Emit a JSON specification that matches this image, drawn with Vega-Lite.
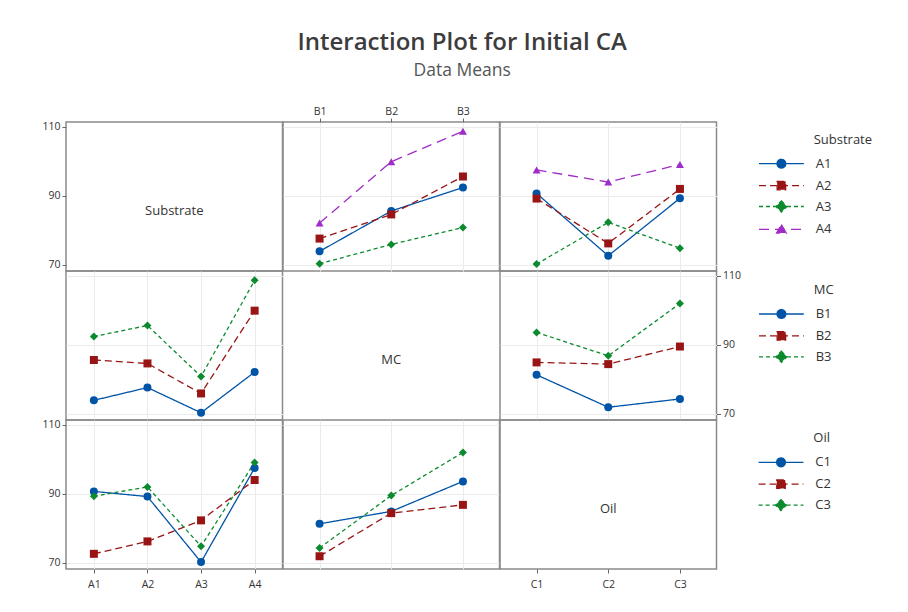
{
  "$schema": "https://vega.github.io/schema/vega-lite/v6.json",
  "background": "white",
  "padding": {"left": 41, "top": 30, "right": 5, "bottom": 5},
  "title": {
    "text": "Interaction Plot for Initial CA",
    "subtitle": "Data Means",
    "anchor": "middle",
    "dx": 5,
    "font": "Open Sans",
    "fontSize": 24,
    "fontWeight": 600,
    "color": "#3c3c3c",
    "subtitleFont": "Open Sans",
    "subtitleFontSize": 17.5,
    "subtitleColor": "#555555",
    "subtitlePadding": 7,
    "offset": 26
  },
  "datasets": {
    "ab": [
      {"Substrate": "A1", "MC": "B1", "CA": 73.9},
      {"Substrate": "A1", "MC": "B2", "CA": 85.6},
      {"Substrate": "A1", "MC": "B3", "CA": 92.4},
      {"Substrate": "A2", "MC": "B1", "CA": 77.6},
      {"Substrate": "A2", "MC": "B2", "CA": 84.6},
      {"Substrate": "A2", "MC": "B3", "CA": 95.6},
      {"Substrate": "A3", "MC": "B1", "CA": 70.3},
      {"Substrate": "A3", "MC": "B2", "CA": 75.9},
      {"Substrate": "A3", "MC": "B3", "CA": 80.8},
      {"Substrate": "A4", "MC": "B1", "CA": 82.1},
      {"Substrate": "A4", "MC": "B2", "CA": 99.9},
      {"Substrate": "A4", "MC": "B3", "CA": 108.7}
    ],
    "ac": [
      {"Substrate": "A1", "Oil": "C1", "CA": 90.7},
      {"Substrate": "A1", "Oil": "C2", "CA": 72.6},
      {"Substrate": "A1", "Oil": "C3", "CA": 89.3},
      {"Substrate": "A2", "Oil": "C1", "CA": 89.2},
      {"Substrate": "A2", "Oil": "C2", "CA": 76.2},
      {"Substrate": "A2", "Oil": "C3", "CA": 92.0},
      {"Substrate": "A3", "Oil": "C1", "CA": 70.2},
      {"Substrate": "A3", "Oil": "C2", "CA": 82.3},
      {"Substrate": "A3", "Oil": "C3", "CA": 74.8},
      {"Substrate": "A4", "Oil": "C1", "CA": 97.5},
      {"Substrate": "A4", "Oil": "C2", "CA": 94.0},
      {"Substrate": "A4", "Oil": "C3", "CA": 99.1}
    ],
    "bc": [
      {"MC": "B1", "Oil": "C1", "CA": 81.3},
      {"MC": "B1", "Oil": "C2", "CA": 71.9},
      {"MC": "B1", "Oil": "C3", "CA": 74.3},
      {"MC": "B2", "Oil": "C1", "CA": 84.9},
      {"MC": "B2", "Oil": "C2", "CA": 84.4},
      {"MC": "B2", "Oil": "C3", "CA": 89.5},
      {"MC": "B3", "Oil": "C1", "CA": 93.6},
      {"MC": "B3", "Oil": "C2", "CA": 86.8},
      {"MC": "B3", "Oil": "C3", "CA": 102.0}
    ]
  },
  "columns": 3,
  "spacing": 0,
  "bounds": "flush",
  "concat": [
    {
      "width": 216.5, "height": 149,
      "data": {"values": [{"label": "Substrate"}]},
      "mark": {"type": "text", "fontSize": 13, "color": "#333333", "dy": 15},
      "encoding": {
        "text": {"field": "label"},
        "y": {"datum": 90, "type": "quantitative", "title": null,
              "scale": {"domain": [68.2, 111.4], "nice": false, "zero": false},
              "axis": {"values": [70, 90, 110], "grid": false, "ticks": true, "labels": true}}
      }
    },
    {
      "width": 216.5, "height": 149,
      "data": {"name": "ab"},
      "encoding": {
        "x": {"field": "MC", "type": "nominal", "title": null,
              "scale": {"type": "point", "padding": 0.51, "domain": ["B1", "B2", "B3"]},
              "axis": {"orient": "top", "labels": true, "ticks": true, "grid": true, "labelAngle": 0}},
        "y": {"field": "CA", "type": "quantitative", "title": null,
              "scale": {"domain": [68.2, 111.4], "nice": false, "zero": false},
              "axis": {"values": [70, 90, 110], "labels": false, "ticks": false, "grid": true}},
        "color": {"field": "Substrate", "type": "nominal", "legend": null,
                  "scale": {"domain": ["A1", "A2", "A3", "A4"], "range": ["#0054A6", "#991515", "#0C8A2E", "#A02CC8"]}}
      },
      "layer": [
        {"mark": {"type": "line", "strokeWidth": 1.3},
         "encoding": {"strokeDash": {"field": "Substrate", "type": "nominal", "legend": null,
                      "scale": {"range": [[1, 0], [7, 4], [4, 3], [10, 6]]}}}},
        {"mark": {"type": "point", "filled": true, "size": 64, "opacity": 1},
         "encoding": {"shape": {"field": "Substrate", "type": "nominal", "legend": null,
                      "scale": {"range": ["circle", "square", "diamond", "triangle-up"]}}}}
      ]
    },
    {
      "width": 216.5, "height": 149,
      "data": {"name": "ac"},
      "encoding": {
        "x": {"field": "Oil", "type": "nominal", "title": null,
              "scale": {"type": "point", "padding": 0.51, "domain": ["C1", "C2", "C3"]},
              "axis": {"labels": false, "ticks": false, "grid": true}},
        "y": {"field": "CA", "type": "quantitative", "title": null,
              "scale": {"domain": [68.2, 111.4], "nice": false, "zero": false},
              "axis": {"values": [70, 90, 110], "labels": false, "ticks": false, "grid": true}},
        "color": {"field": "Substrate", "type": "nominal",
                  "scale": {"domain": ["A1", "A2", "A3", "A4"], "range": ["#0054A6", "#991515", "#0C8A2E", "#A02CC8"]},
                  "legend": {
                    "orient": "none", "legendX": 272.4, "legendY": 11.7,
                    "title": "Substrate", "titleFontSize": 13, "titleFontWeight": "normal", "titleColor": "#333333",
                    "labelFontSize": 13, "labelColor": "#333333",
                    "symbolSize": 256, "labelOffset": 25.3, "rowPadding": 4.9, "titlePadding": 8, "padding": 0,
                    "encoding": {
                      "title": {"dx": {"value": 41.3}},
                      "symbols": {
                        "shape": {"value": {"expr": "['M-2.8,0H2.8M0.56,0L0.485,0.28L0.28,0.485L0,0.56L-0.28,0.485L-0.485,0.28L-0.56,0L-0.485,-0.28L-0.28,-0.485L0,-0.56L0.28,-0.485L0.485,-0.28Z','M-2.8,0H2.8M-0.53,-0.53H0.53V0.53H-0.53Z','M-2.8,0H2.8M0,-0.69L0.69,0L0,0.69L-0.69,0Z','M-2.8,0H2.8M0,-0.6L0.6,0.45L-0.6,0.45Z'][datum.index]"}},
                        "strokeDash": {"value": {"expr": "[[1,0],[7,4],[4,3],[10,6]][datum.index]"}},
                        "strokeWidth": {"value": 1.3},
                        "size": {"value": 256},
                        "opacity": {"value": 1}
                      }
                    }
                  }}
      },
      "layer": [
        {"mark": {"type": "line", "strokeWidth": 1.3},
         "encoding": {"strokeDash": {"field": "Substrate", "type": "nominal", "legend": null,
                      "scale": {"range": [[1, 0], [7, 4], [4, 3], [10, 6]]}}}},
        {"mark": {"type": "point", "filled": true, "size": 64, "opacity": 1},
         "encoding": {"shape": {"field": "Substrate", "type": "nominal", "legend": null,
                      "scale": {"range": ["circle", "square", "diamond", "triangle-up"]}}}}
      ]
    },
    {
      "width": 216.5, "height": 149,
      "data": {"name": "ab"},
      "encoding": {
        "x": {"field": "Substrate", "type": "nominal", "title": null,
              "scale": {"type": "point", "padding": 0.52, "domain": ["A1", "A2", "A3", "A4"]},
              "axis": {"labels": false, "ticks": false, "grid": true}},
        "y": {"field": "CA", "type": "quantitative", "title": null,
              "scale": {"domain": [68.2, 111.4], "nice": false, "zero": false},
              "axis": {"values": [70, 90, 110], "labels": false, "ticks": false, "grid": true}},
        "color": {"field": "MC", "type": "nominal", "legend": null,
                  "scale": {"domain": ["B1", "B2", "B3"], "range": ["#0054A6", "#991515", "#0C8A2E"]}}
      },
      "layer": [
        {"mark": {"type": "line", "strokeWidth": 1.3},
         "encoding": {"strokeDash": {"field": "MC", "type": "nominal", "legend": null,
                      "scale": {"range": [[1, 0], [7, 4], [4, 3]]}}}},
        {"mark": {"type": "point", "filled": true, "size": 64, "opacity": 1},
         "encoding": {"shape": {"field": "MC", "type": "nominal", "legend": null,
                      "scale": {"range": ["circle", "square", "diamond"]}}}}
      ]
    },
    {
      "width": 216.5, "height": 149,
      "data": {"values": [{"label": "MC"}]},
      "mark": {"type": "text", "fontSize": 13, "color": "#333333", "dy": 14},
      "encoding": {"text": {"field": "label"}}
    },
    {
      "width": 216.5, "height": 149,
      "data": {"name": "bc"},
      "encoding": {
        "x": {"field": "Oil", "type": "nominal", "title": null,
              "scale": {"type": "point", "padding": 0.51, "domain": ["C1", "C2", "C3"]},
              "axis": {"labels": false, "ticks": false, "grid": true}},
        "y": {"field": "CA", "type": "quantitative", "title": null,
              "scale": {"domain": [68.2, 111.4], "nice": false, "zero": false},
              "axis": {"orient": "right", "values": [70, 90, 110], "labels": true, "ticks": true, "grid": true}},
        "color": {"field": "MC", "type": "nominal",
                  "scale": {"domain": ["B1", "B2", "B3"], "range": ["#0054A6", "#991515", "#0C8A2E"]},
                  "legend": {
                    "orient": "none", "legendX": 272.4, "legendY": 13,
                    "title": "MC", "titleFontSize": 13, "titleFontWeight": "normal", "titleColor": "#333333",
                    "labelFontSize": 13, "labelColor": "#333333",
                    "symbolSize": 256, "labelOffset": 25.3, "rowPadding": 4.9, "titlePadding": 8, "padding": 0,
                    "encoding": {
                      "title": {"dx": {"value": 41.3}},
                      "symbols": {
                        "shape": {"value": {"expr": "['M-2.8,0H2.8M0.56,0L0.485,0.28L0.28,0.485L0,0.56L-0.28,0.485L-0.485,0.28L-0.56,0L-0.485,-0.28L-0.28,-0.485L0,-0.56L0.28,-0.485L0.485,-0.28Z','M-2.8,0H2.8M-0.53,-0.53H0.53V0.53H-0.53Z','M-2.8,0H2.8M0,-0.69L0.69,0L0,0.69L-0.69,0Z'][datum.index]"}},
                        "strokeDash": {"value": {"expr": "[[1,0],[7,4],[4,3]][datum.index]"}},
                        "strokeWidth": {"value": 1.3},
                        "size": {"value": 256},
                        "opacity": {"value": 1}
                      }
                    }
                  }}
      },
      "layer": [
        {"mark": {"type": "line", "strokeWidth": 1.3},
         "encoding": {"strokeDash": {"field": "MC", "type": "nominal", "legend": null,
                      "scale": {"range": [[1, 0], [7, 4], [4, 3]]}}}},
        {"mark": {"type": "point", "filled": true, "size": 64, "opacity": 1},
         "encoding": {"shape": {"field": "MC", "type": "nominal", "legend": null,
                      "scale": {"range": ["circle", "square", "diamond"]}}}}
      ]
    },
    {
      "width": 216.5, "height": 149,
      "data": {"name": "ac"},
      "encoding": {
        "x": {"field": "Substrate", "type": "nominal", "title": null,
              "scale": {"type": "point", "padding": 0.52, "domain": ["A1", "A2", "A3", "A4"]},
              "axis": {"labels": true, "ticks": true, "grid": true, "labelAngle": 0, "labelPadding": 6}},
        "y": {"field": "CA", "type": "quantitative", "title": null,
              "scale": {"domain": [68.2, 111.4], "nice": false, "zero": false},
              "axis": {"values": [70, 90, 110], "labels": true, "ticks": true, "grid": true}},
        "color": {"field": "Oil", "type": "nominal", "legend": null,
                  "scale": {"domain": ["C1", "C2", "C3"], "range": ["#0054A6", "#991515", "#0C8A2E"]}}
      },
      "layer": [
        {"mark": {"type": "line", "strokeWidth": 1.3},
         "encoding": {"strokeDash": {"field": "Oil", "type": "nominal", "legend": null,
                      "scale": {"range": [[1, 0], [7, 4], [4, 3]]}}}},
        {"mark": {"type": "point", "filled": true, "size": 64, "opacity": 1},
         "encoding": {"shape": {"field": "Oil", "type": "nominal", "legend": null,
                      "scale": {"range": ["circle", "square", "diamond"]}}}}
      ]
    },
    {
      "width": 216.5, "height": 149,
      "data": {"name": "bc"},
      "encoding": {
        "x": {"field": "MC", "type": "nominal", "title": null,
              "scale": {"type": "point", "padding": 0.51, "domain": ["B1", "B2", "B3"]},
              "axis": {"labels": false, "ticks": false, "grid": true}},
        "y": {"field": "CA", "type": "quantitative", "title": null,
              "scale": {"domain": [68.2, 111.4], "nice": false, "zero": false},
              "axis": {"values": [70, 90, 110], "labels": false, "ticks": false, "grid": true}},
        "color": {"field": "Oil", "type": "nominal",
                  "scale": {"domain": ["C1", "C2", "C3"], "range": ["#0054A6", "#991515", "#0C8A2E"]},
                  "legend": {
                    "orient": "none", "legendX": 489, "legendY": 12.3,
                    "title": "Oil", "titleFontSize": 13, "titleFontWeight": "normal", "titleColor": "#333333",
                    "labelFontSize": 13, "labelColor": "#333333",
                    "symbolSize": 256, "labelOffset": 25.3, "rowPadding": 4.9, "titlePadding": 8, "padding": 0,
                    "encoding": {
                      "title": {"dx": {"value": 41.3}},
                      "symbols": {
                        "shape": {"value": {"expr": "['M-2.8,0H2.8M0.56,0L0.485,0.28L0.28,0.485L0,0.56L-0.28,0.485L-0.485,0.28L-0.56,0L-0.485,-0.28L-0.28,-0.485L0,-0.56L0.28,-0.485L0.485,-0.28Z','M-2.8,0H2.8M-0.53,-0.53H0.53V0.53H-0.53Z','M-2.8,0H2.8M0,-0.69L0.69,0L0,0.69L-0.69,0Z'][datum.index]"}},
                        "strokeDash": {"value": {"expr": "[[1,0],[7,4],[4,3]][datum.index]"}},
                        "strokeWidth": {"value": 1.3},
                        "size": {"value": 256},
                        "opacity": {"value": 1}
                      }
                    }
                  }}
      },
      "layer": [
        {"mark": {"type": "line", "strokeWidth": 1.3},
         "encoding": {"strokeDash": {"field": "Oil", "type": "nominal", "legend": null,
                      "scale": {"range": [[1, 0], [7, 4], [4, 3]]}}}},
        {"mark": {"type": "point", "filled": true, "size": 64, "opacity": 1},
         "encoding": {"shape": {"field": "Oil", "type": "nominal", "legend": null,
                      "scale": {"range": ["circle", "square", "diamond"]}}}}
      ]
    },
    {
      "width": 216.5, "height": 149,
      "data": {"values": [{"label": "Oil"}]},
      "mark": {"type": "text", "fontSize": 13, "color": "#333333", "dy": 14},
      "encoding": {
        "text": {"field": "label"},
        "x": {"datum": "C2", "type": "nominal", "title": null,
              "scale": {"type": "point", "padding": 0.51, "domain": ["C1", "C2", "C3"]},
              "axis": {"labels": true, "ticks": true, "grid": false, "labelAngle": 0, "labelPadding": 6}}
      }
    }
  ],
  "resolve": {
    "scale": {"x": "independent", "y": "independent", "color": "independent", "shape": "independent", "strokeDash": "independent"},
    "axis": {"x": "independent", "y": "independent"},
    "legend": {"color": "independent", "shape": "independent", "strokeDash": "independent"}
  },
  "config": {
    "font": "Open Sans",
    "view": {"stroke": "#8a8a8a", "strokeWidth": 1.5},
    "axis": {
      "domain": false,
      "labelFont": "Open Sans",
      "labelFontSize": 10.5,
      "labelColor": "#333333",
      "tickColor": "#666666",
      "tickSize": 4,
      "labelPadding": 2,
      "gridColor": "#ebebeb",
      "gridWidth": 1
    },
    "legend": {"labelFont": "Open Sans", "titleFont": "Open Sans"}
  }
}
